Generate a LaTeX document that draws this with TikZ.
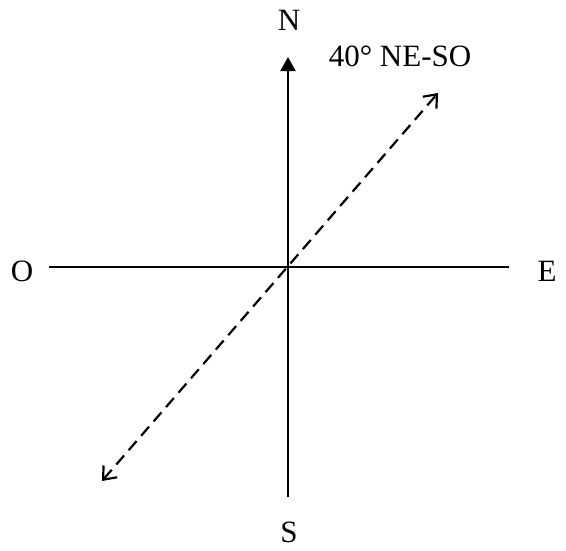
\documentclass[tikz,border=0pt]{standalone}
\usepackage{fontspec}
\setmainfont{Liberation Serif}
\usetikzlibrary{arrows.meta}
\begin{document}
\begin{tikzpicture}[x=1pt,y=-1pt,
  axis/.style={line width=2.2pt},
  lbl/.style={font=\fontsize{31}{35}\selectfont, inner sep=0pt},
  diag/.style={line width=2.2pt, dash pattern=on 12pt off 7pt, {Straight Barb[length=11pt,width=18pt,line width=2.2pt]}-{Straight Barb[length=11pt,width=18pt,line width=2.2pt]}}]
\useasboundingbox (0,0) rectangle (566,550);
\coordinate (c) at (287,266);
\coordinate (ntip) at (288,57);
\coordinate (sbot) at (288,497);
\coordinate (wend) at (49,267);
\coordinate (eend) at (509,267);
\coordinate (ne) at (438,93);
\coordinate (sw) at (102,481);
\node[lbl] (N) at (289,20) {N};
\node[lbl] (S) at (289,532) {S};
\node[lbl] (O) at (22,271) {O};
\node[lbl] (E) at (547,271) {E};
\node[lbl] (ang) at (400,56) {40° NE-SO};
\draw[axis,-{Triangle[length=14pt,width=15pt]}] (sbot) -- (ntip);
\draw[axis] (wend) -- (eend);
\draw[diag] (sw) -- (ne);
\end{tikzpicture}
\end{document}
